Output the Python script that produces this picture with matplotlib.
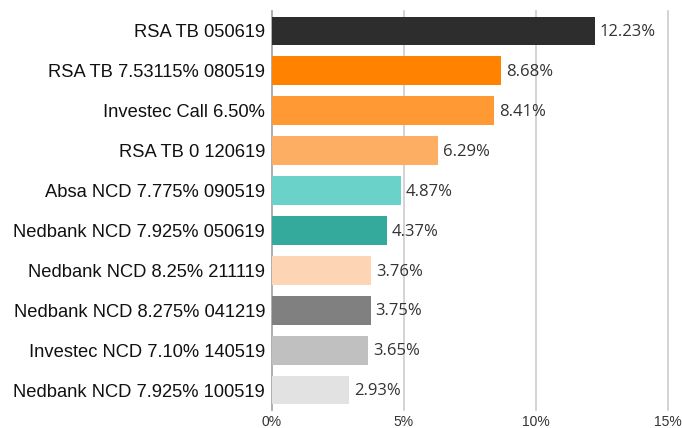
import matplotlib
matplotlib.use("Agg")
from matplotlib import pyplot as plt
from matplotlib.ticker import FuncFormatter

# data (top to bottom)
names = ['RSA TB 050619', 'RSA TB 7.53115% 080519', 'Investec Call 6.50%',
         'RSA TB 0 120619', 'Absa NCD 7.775% 090519', 'Nedbank NCD 7.925% 050619',
         'Nedbank NCD 8.25% 211119', 'Nedbank NCD 8.275% 041219',
         'Investec NCD 7.10% 140519', 'Nedbank NCD 7.925% 100519']
weights = [12.23, 8.68, 8.41, 6.29, 4.87, 4.37, 3.76, 3.75, 3.65, 2.93]
colors = ['#2d2d2d', '#ff8300', '#fe9933', '#feae63', '#6ad2c8',
          '#33aa9c', '#fdd5b4', '#808080', '#c0c0c0', '#e2e2e2']
xticks = [0, 5, 10, 15]

fig = plt.figure(figsize=(6.82, 4.28), dpi=100)
ax = fig.add_axes([0.3988, 0.042, 0.5807, 0.9325])

pos = list(range(len(names)))
ax.barh(pos, weights, height=0.72, color=colors, zorder=3)
for p, w in zip(pos, weights):
    ax.text(w + 0.18, p + 0.03, '%.2f%%' % w, va='center', ha='left',
            fontsize=12, family='Open Sans', color='#333333', zorder=4)

ax.set_xlim(0, 15)
ax.set_ylim(len(names) - 0.5, -0.5)
ax.set_yticks(pos)
ax.set_yticklabels(names, fontsize=13.2, family='Liberation Sans', color='#111111')
ax.set_xticks(xticks)
ax.xaxis.set_major_formatter(FuncFormatter(lambda v, _: '%d%%' % v))
for lab in ax.get_xticklabels():
    lab.set_family('Liberation Sans')
ax.tick_params(axis='x', labelsize=10, colors='#333333', length=0, pad=3.5)
ax.tick_params(axis='y', length=0, pad=5)
ax.grid(axis='x', color='#cccccc', linewidth=1.2, zorder=0)
for gl in ax.get_xgridlines():
    gl.set_clip_on(False)
for s in ['top', 'right', 'bottom']:
    ax.spines[s].set_visible(False)
ax.spines['left'].set_color('#aaaaaa')
ax.spines['left'].set_linewidth(1.2)

fig.savefig('out.png', dpi=100)
